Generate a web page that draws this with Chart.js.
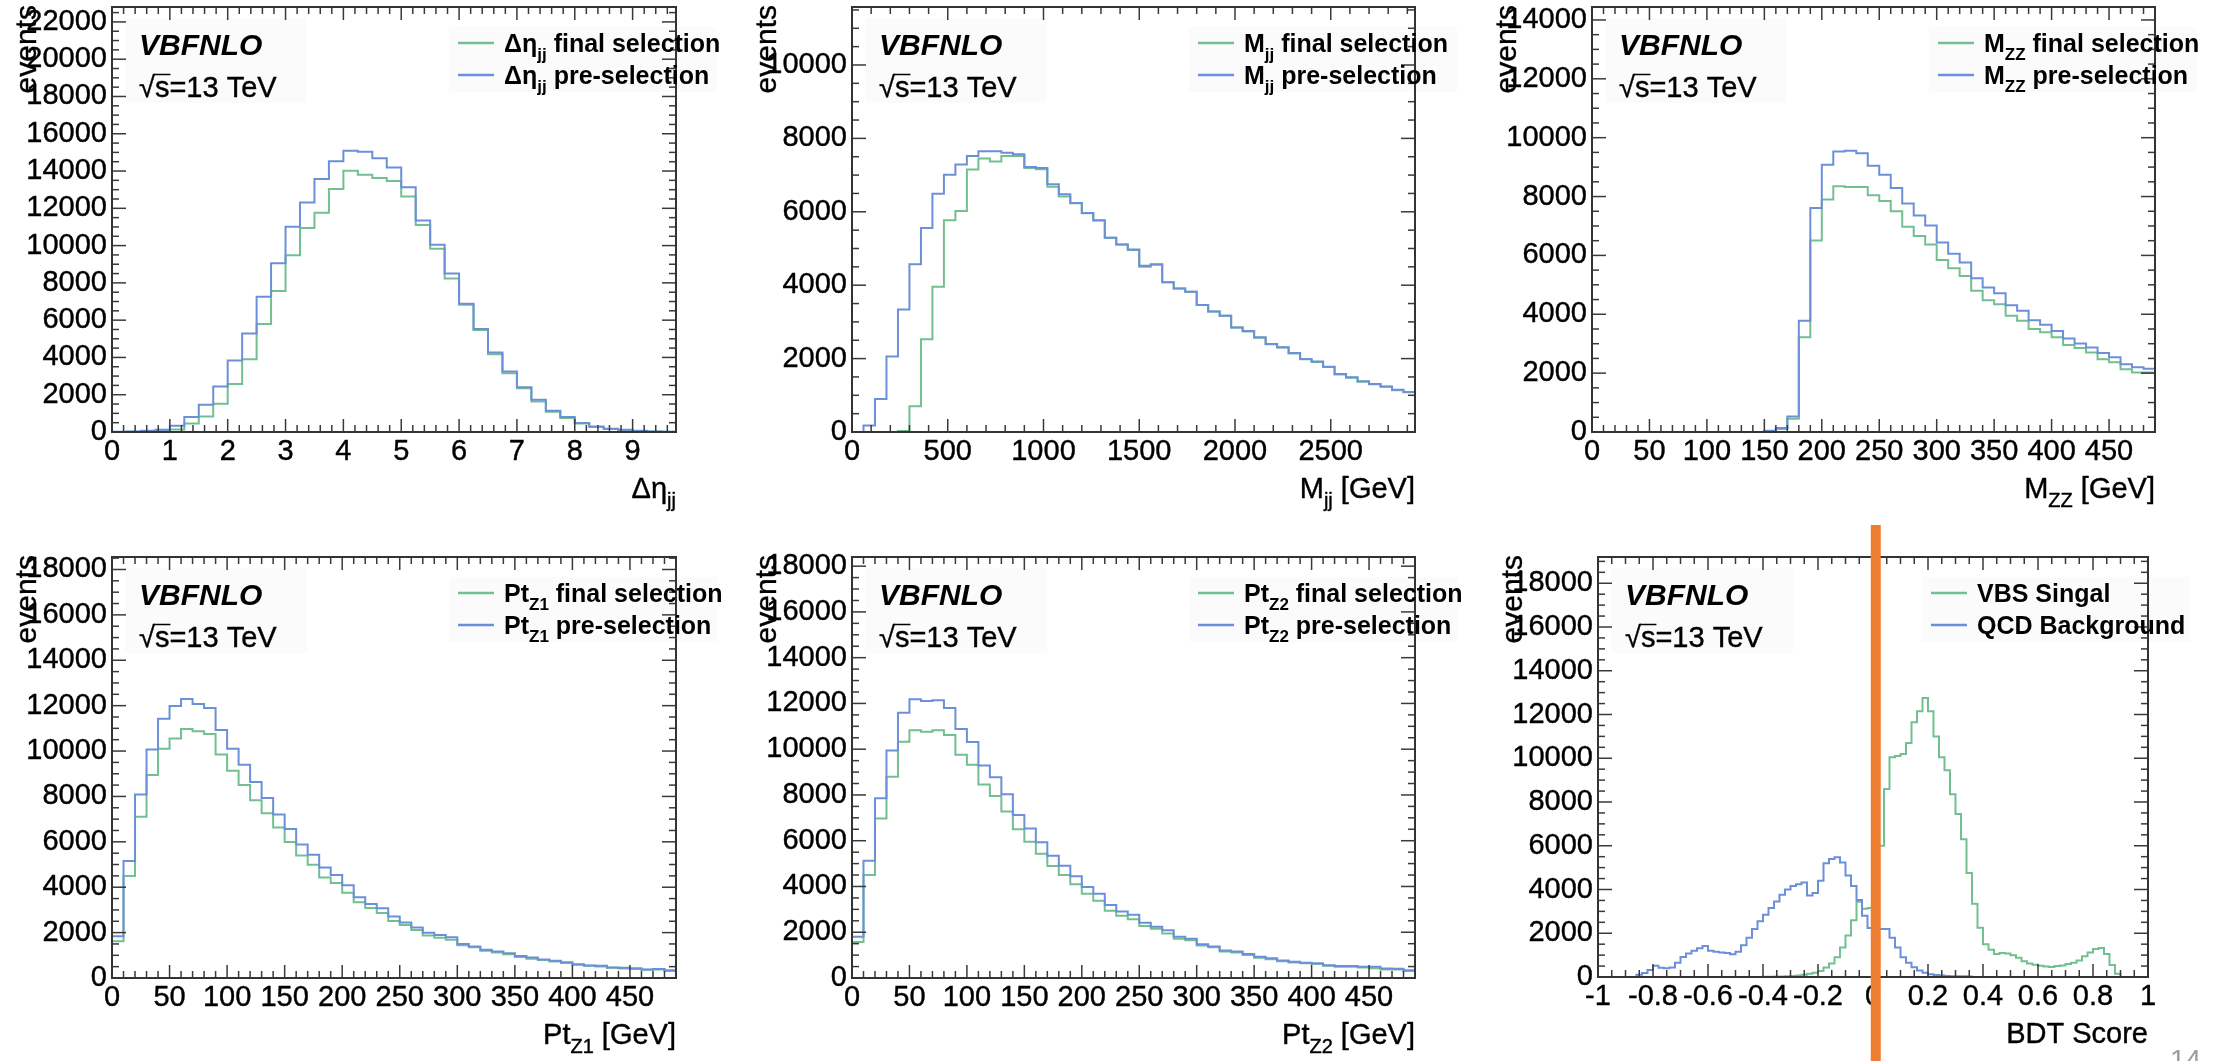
<!DOCTYPE html>
<html>
<head>
<meta charset="utf-8">
<title>VBFNLO distributions</title>
<script src="https://cdn.jsdelivr.net/npm/chart.js@4.4.1/dist/chart.umd.min.js"></script>
<style>
  html, body { margin:0; padding:0; background:#fff; }
  body { width:2224px; height:1061px; position:relative; overflow:hidden; font-family:"Liberation Sans", Arial, sans-serif; }
  .pane { position:absolute; }
  .pane canvas { display:block; }
  #pageno { position:absolute; left:2170px; top:1046px; font-size:28px; line-height:28px; color:#9c9c9c; }
</style>
</head>
<body>
<div class="pane" id="p1"><canvas id="c1"></canvas></div>
<div class="pane" id="p2"><canvas id="c2"></canvas></div>
<div class="pane" id="p3"><canvas id="c3"></canvas></div>
<div class="pane" id="p4"><canvas id="c4"></canvas></div>
<div class="pane" id="p5"><canvas id="c5"></canvas></div>
<div class="pane" id="p6"><canvas id="c6"></canvas></div>
<div id="pageno">14</div>
<script>
// ---------------- data ----------------
// Delta eta_jj : 39 bins of 0.25 from 0
const detaPre   = [20,30,70,120,340,800,1460,2440,3830,5290,7250,9050,11010,12310,13570,14530,15090,15030,14680,14190,13130,11350,10050,8500,6880,5520,4270,3240,2400,1730,1140,800,480,300,180,120,70,30,20];
const detaFinal = [0,10,20,40,130,450,830,1510,2580,3900,5790,7570,9480,10940,11760,13040,14020,13800,13620,13460,12630,11110,9830,8230,6820,5470,4170,3150,2350,1640,1090,750,450,270,160,110,50,30,20];
// M_jj : 49 bins of 60 GeV from 0
const mjjPre   = [0,180,900,2060,3340,4570,5560,6490,7010,7290,7520,7650,7650,7610,7570,7220,7190,6750,6480,6240,5970,5770,5290,5110,4970,4530,4570,4080,3910,3820,3460,3280,3170,2850,2750,2580,2400,2310,2150,1990,1920,1780,1580,1490,1380,1310,1240,1150,1090];
const mjjFinal = [0,0,0,0,30,700,2530,3960,5770,6020,7150,7450,7370,7520,7520,7190,7160,6680,6420,6230,5960,5760,5290,5110,4960,4500,4560,4080,3910,3820,3460,3280,3170,2850,2740,2570,2390,2300,2140,1980,1910,1770,1570,1480,1370,1300,1230,1140,1080];
// M_ZZ : 49 bins of 10 GeV from 0
const mzzPre   = [0,0,0,0,0,0,0,0,0,0,0,0,0,0,0,45,135,530,3780,7610,9080,9530,9560,9470,9050,8740,8290,7760,7360,7020,6440,6060,5760,5220,4910,4710,4310,4120,3800,3640,3430,3180,3010,2870,2680,2540,2300,2200,2150];
const mzzFinal = [0,0,0,0,0,0,0,0,0,0,0,0,0,0,0,30,100,450,3220,6510,7900,8350,8320,8320,8040,7850,7500,6970,6660,6370,5840,5560,5300,4800,4480,4340,3950,3780,3500,3390,3220,2960,2850,2700,2470,2370,2130,2020,2020];
// Pt_Z1 : 49 bins of 10 GeV from 0
const ptz1Pre   = [1840,5160,8080,10070,11420,11980,12290,12070,11900,10930,10100,9400,8640,7930,7200,6560,5880,5430,4870,4540,4090,3560,3260,3070,2710,2440,2220,1990,1890,1800,1500,1390,1240,1170,1090,970,900,820,760,690,610,550,540,460,450,430,370,400,340];
const ptz1Final = [1620,4490,7110,8950,10100,10550,10970,10870,10750,9850,9130,8500,7830,7260,6630,5990,5400,4990,4430,4190,3760,3340,3080,2860,2510,2340,2110,1870,1770,1690,1440,1350,1200,1120,1050,930,850,790,730,660,580,540,510,450,420,400,360,370,310];
// Pt_Z2 : 49 bins of 10 GeV from 0
const ptz2Pre   = [1800,5120,7860,9940,11590,12180,12110,12140,11800,10880,10310,9290,8770,8030,7120,6530,5930,5340,4910,4450,3980,3680,3190,2910,2760,2420,2240,2090,1800,1710,1480,1380,1200,1160,1050,930,860,760,710,670,640,560,520,520,490,490,420,400,340];
const ptz2Final = [1570,4500,6970,8800,10330,10830,10760,10830,10620,9760,9320,8460,7950,7280,6500,5950,5430,4900,4500,4100,3680,3380,2940,2720,2570,2270,2150,1940,1710,1650,1420,1340,1160,1110,1010,890,820,730,680,640,610,530,490,490,460,430,370,370,310];
// BDT score : 100 bins of 0.02 from -1
const bdtBackground = [0,0,0,0,0,0,0,100,180,320,510,420,400,430,650,920,1080,1200,1320,1420,1200,1150,1120,1100,1040,1150,1450,1800,2200,2550,2850,3150,3450,3760,4000,4160,4240,4320,3730,3840,4400,5200,5390,5470,5230,4640,4160,3520,2800,2240,2150,2200,2200,1800,1350,900,650,450,300,190,130,90,70,50,40,35,30,20,0,0,0,0,0,0,0,0,0,0,0,0,0,0,0,0,0,0,0,0,0,0,0,0,0,0,0,0,0,0,0,0];
const bdtSignal = [0,0,0,0,0,0,0,0,0,0,0,0,0,0,0,0,0,0,0,0,0,0,0,0,0,0,0,0,0,0,10,15,20,25,35,50,70,100,150,200,280,430,620,900,1350,1900,2600,3440,3120,3150,3750,6000,8600,10050,10100,10200,10700,11650,12150,12750,12150,11000,10050,9450,8350,7450,6300,4750,3350,2250,1500,1250,1050,1100,1080,1000,880,720,620,560,520,480,460,500,530,590,650,750,950,1120,1280,1330,1050,550,150,0,0,0,0,0];
const bdtCut = 0.01;

// tick labels
const detaTicks = [0,1,2,3,4,5,6,7,8,9];
const mjjTicks  = [0,500,1000,1500,2000,2500];
const gevTicks  = [0,50,100,150,200,250,300,350,400,450];
const bdtTicks  = [-1,-0.8,-0.6,-0.4,-0.2,0,0.2,0.4,0.6,0.8,1];
const yTicks22  = [0,2000,4000,6000,8000,10000,12000,14000,16000,18000,20000,22000];
const yTicks10  = [0,2000,4000,6000,8000,10000];
const yTicks14  = [0,2000,4000,6000,8000,10000,12000,14000];
const yTicks18  = [0,2000,4000,6000,8000,10000,12000,14000,16000,18000];

// ---------------- styling / layout ----------------
const GREEN = '#72bf90';
const BLUE  = '#6c8fda';
const ORANGE = '#ed7d31';
const FAMILY = '"Liberation Sans", Arial, sans-serif';
Chart.defaults.font.family = FAMILY;
Chart.defaults.color = '#000';

const boxes = {
  p1: {left:0,    top:0,   width:746, height:520, fl:112, ft:7,  fw:564, fh:425},
  p2: {left:740,  top:0,   width:746, height:520, fl:112, ft:7,  fw:563, fh:425},
  p3: {left:1480, top:0,   width:744, height:520, fl:112, ft:7,  fw:563, fh:425},
  p4: {left:0,    top:520, width:746, height:541, fl:112, ft:37, fw:564, fh:421},
  p5: {left:740,  top:520, width:746, height:541, fl:112, ft:37, fw:563, fh:421},
  p6: {left:1486, top:520, width:738, height:541, fl:112, ft:37, fw:550, fh:420}
};

function fontStr(size, bold, italic) {
  return (italic ? 'italic ' : '') + (bold ? 'bold ' : '') + size + 'px ' + FAMILY;
}
function drawRich(ctx, parts, x, base, size, bold, align, stroke) {
  const sub = Math.round(size * 0.68);
  const w = parts.map(([t, s]) => { ctx.font = fontStr(s ? sub : size, bold); return ctx.measureText(t).width; });
  const total = w.reduce((p, q) => p + q, 0);
  let cx = align === 'right' ? x - total : x;
  ctx.textAlign = 'left';
  ctx.textBaseline = 'alphabetic';
  parts.forEach(([t, s], i) => {
    ctx.font = fontStr(s ? sub : size, bold);
    const yy = s ? base + size * 0.3 : base;
    ctx.fillText(t, cx, yy);
    if (stroke) { ctx.lineWidth = stroke; ctx.strokeStyle = ctx.fillStyle; ctx.strokeText(t, cx, yy); }
    cx += w[i];
  });
}
function line(ctx, x1, y1, x2, y2) { ctx.beginPath(); ctx.moveTo(x1, y1); ctx.lineTo(x2, y2); ctx.stroke(); }

function drawTicks(ctx, scale, a, horizontal, minor, majorLen, minorLen) {
  const majors = scale.ticks.map(t => t.value);
  const k0 = Math.ceil(scale.min / minor - 1e-6), k1 = Math.floor(scale.max / minor + 1e-6);
  for (let k = k0; k <= k1; k++) {
    const v = k * minor;
    const isMajor = majors.some(m => Math.abs(m - v) < minor * 1e-3);
    const len = isMajor ? majorLen : minorLen;
    const p = scale.getPixelForValue(v);
    if (horizontal) { line(ctx, p, a.bottom, p, a.bottom - len); line(ctx, p, a.top, p, a.top + len); }
    else { line(ctx, a.left, p, a.left + len, p); line(ctx, a.right, p, a.right - len, p); }
  }
}

const rootDeco = {
  id: 'rootDeco',
  beforeDatasetsDraw(chart, args, o) {
    const {ctx, chartArea: a} = chart;
    ctx.save();
    ctx.fillStyle = '#fbfbfb';
    ctx.fillRect(a.left + 13, a.top + 11, 182, 85);
    ctx.fillRect(a.left + o.legendDx + 337, a.top + 20, 268, 65);
    ctx.restore();
  },
  afterDatasetsDraw(chart, args, o) {
    const {ctx, chartArea: a, scales: {x, y}} = chart;
    ctx.save();
    ctx.strokeStyle = '#3a3a3a';
    ctx.lineWidth = 1.5;
    drawTicks(ctx, x, a, true, o.xMinor, 13, 7);
    drawTicks(ctx, y, a, false, o.yMinor, 14, 7);
    ctx.lineWidth = 2;
    ctx.strokeStyle = '#333';
    ctx.strokeRect(a.left, a.top, a.right - a.left, a.bottom - a.top);
    ctx.restore();
  },
  afterDraw(chart, args, o) {
    const {ctx, chartArea: a, scales: {x}} = chart;
    ctx.save();
    ctx.fillStyle = '#000';
    // VBFNLO label
    ctx.font = fontStr(30, true, true);
    ctx.textAlign = 'left'; ctx.textBaseline = 'alphabetic';
    ctx.fillText('VBFNLO', a.left + 27, a.top + 48);
    // sqrt(s) = 13 TeV
    const sb = a.top + 90, sx = a.left + 27;
    ctx.font = fontStr(29);
    const wr = ctx.measureText('√').width;
    const ws = ctx.measureText('s').width;
    ctx.fillText('√', sx, sb);
    ctx.fillText('s=13 TeV', sx + wr, sb);
    ctx.strokeStyle = '#000'; ctx.lineWidth = 0.4;
    ctx.strokeText('√', sx, sb);
    ctx.strokeText('s=13 TeV', sx + wr, sb);
    ctx.lineWidth = 1.5;
    line(ctx, sx + wr - 1, sb - 22.5, sx + wr + ws + 1, sb - 22.5);
    // legend
    o.legend.forEach((ent, i) => {
      const cy = a.top + 36 + i * 32;
      ctx.strokeStyle = ent.color; ctx.lineWidth = 2.5;
      line(ctx, a.left + o.legendDx + 346, cy, a.left + o.legendDx + 382, cy);
      ctx.fillStyle = '#000';
      drawRich(ctx, ent.parts, a.left + o.legendDx + 392, cy + 9, 25, true, 'left', 0);
    });
    // x-axis title
    ctx.fillStyle = '#000';
    drawRich(ctx, o.title, a.right, a.bottom + 66, 29, false, 'right', 0.4);
    // y-axis title
    ctx.save();
    ctx.translate(a.left - 84, a.top - 2);
    ctx.rotate(-Math.PI / 2);
    ctx.font = fontStr(30);
    ctx.textAlign = 'right'; ctx.textBaseline = 'middle';
    ctx.fillText('events', 0, 0);
    ctx.lineWidth = 0.4; ctx.strokeStyle = '#000';
    ctx.strokeText('events', 0, 0);
    ctx.restore();
    // cut line (BDT panel)
    if (o.cut !== undefined) {
      const px = x.getPixelForValue(o.cut);
      ctx.fillStyle = ORANGE;
      ctx.fillRect(px - 5, 5, 10, chart.height - 5);
    }
    ctx.restore();
  }
};

function stepPoints(low, width, vals) {
  const pts = vals.map((v, i) => ({x: low + i * width, y: v}));
  pts.push({x: low + vals.length * width, y: vals[vals.length - 1]});
  return pts;
}

const panelDefs = [
  {box:'p1', canvas:'c1', low:0, width:0.25, xMin:0, xMax:9.75, xTicks:detaTicks, xMinor:0.2, yMax:22800, yTicks:yTicks22, yMinor:500,
   pre:detaPre, fin:detaFinal, title:[['Δη',0],['jj',1]], legendDx:0,
   legend:[{color:GREEN, parts:[['Δη',0],['jj',1],[' final selection',0]]},{color:BLUE, parts:[['Δη',0],['jj',1],[' pre-selection',0]]}]},
  {box:'p2', canvas:'c2', low:0, width:60, xMin:0, xMax:2940, xTicks:mjjTicks, xMinor:100, yMax:11580, yTicks:yTicks10, yMinor:500,
   pre:mjjPre, fin:mjjFinal, title:[['M',0],['jj',1],[' [GeV]',0]], legendDx:0,
   legend:[{color:GREEN, parts:[['M',0],['jj',1],[' final selection',0]]},{color:BLUE, parts:[['M',0],['jj',1],[' pre-selection',0]]}]},
  {box:'p3', canvas:'c3', low:0, width:10, xMin:0, xMax:490, xTicks:gevTicks, xMinor:10, yMax:14440, yTicks:yTicks14, yMinor:500,
   pre:mzzPre, fin:mzzFinal, title:[['M',0],['ZZ',1],[' [GeV]',0]], legendDx:0,
   legend:[{color:GREEN, parts:[['M',0],['ZZ',1],[' final selection',0]]},{color:BLUE, parts:[['M',0],['ZZ',1],[' pre-selection',0]]}]},
  {box:'p4', canvas:'c4', low:0, width:10, xMin:0, xMax:490, xTicks:gevTicks, xMinor:10, yMax:18550, yTicks:yTicks18, yMinor:500,
   pre:ptz1Pre, fin:ptz1Final, title:[['Pt',0],['Z1',1],[' [GeV]',0]], legendDx:0,
   legend:[{color:GREEN, parts:[['Pt',0],['Z1',1],[' final selection',0]]},{color:BLUE, parts:[['Pt',0],['Z1',1],[' pre-selection',0]]}]},
  {box:'p5', canvas:'c5', low:0, width:10, xMin:0, xMax:490, xTicks:gevTicks, xMinor:10, yMax:18400, yTicks:yTicks18, yMinor:500,
   pre:ptz2Pre, fin:ptz2Final, title:[['Pt',0],['Z2',1],[' [GeV]',0]], legendDx:0,
   legend:[{color:GREEN, parts:[['Pt',0],['Z2',1],[' final selection',0]]},{color:BLUE, parts:[['Pt',0],['Z2',1],[' pre-selection',0]]}]},
  {box:'p6', canvas:'c6', low:-1, width:0.02, xMin:-1, xMax:1, xTicks:bdtTicks, xMinor:0.05, yMax:19200, yTicks:yTicks18, yMinor:500,
   pre:bdtBackground, fin:bdtSignal, title:[['BDT Score',0]], legendDx:-13, cut:bdtCut,
   legend:[{color:GREEN, parts:[['VBS Singal',0]]},{color:BLUE, parts:[['QCD Background',0]]}]}
];

panelDefs.forEach(d => {
  const b = boxes[d.box];
  const wrap = document.getElementById(d.box);
  wrap.style.left = b.left + 'px'; wrap.style.top = b.top + 'px';
  wrap.style.width = b.width + 'px'; wrap.style.height = b.height + 'px';
  const yAxisW = b.fl, xAxisH = b.height - b.ft - b.fh, padRight = b.width - b.fl - b.fw;
  const fmt = v => String(v);
  new Chart(document.getElementById(d.canvas), {
    type: 'line',
    data: {
      datasets: [
        {data: stepPoints(d.low, d.width, d.pre), borderColor: BLUE, borderWidth: 2, pointRadius: 0, fill: false, stepped: true, tension: 0},
        {data: stepPoints(d.low, d.width, d.fin), borderColor: GREEN, borderWidth: 2, pointRadius: 0, fill: false, stepped: true, tension: 0}
      ]
    },
    options: {
      responsive: true, maintainAspectRatio: false, devicePixelRatio: 1,
      animation: false, events: [],
      layout: {padding: {top: b.ft, left: 0, right: padRight, bottom: 0}},
      plugins: {
        legend: {display: false}, tooltip: {enabled: false},
        rootDeco: {xMinor: d.xMinor, yMinor: d.yMinor, legend: d.legend, legendDx: d.legendDx, title: d.title, cut: d.cut}
      },
      scales: {
        x: {
          type: 'linear', min: d.xMin, max: d.xMax,
          grid: {display: false, drawTicks: false}, border: {display: false},
          ticks: {font: {size: 29}, color: '#000', textStrokeColor: '#000', textStrokeWidth: 0.4, padding: 3, autoSkip: false, maxRotation: 0, minRotation: 0, callback: fmt},
          afterBuildTicks: s => { s.ticks = d.xTicks.map(v => ({value: v})); },
          afterFit: s => { s.height = xAxisH; s.paddingLeft = 0; s.paddingRight = 0; }
        },
        y: {
          type: 'linear', min: 0, max: d.yMax,
          grid: {display: false, drawTicks: false}, border: {display: false},
          ticks: {font: {size: 29}, color: '#000', textStrokeColor: '#000', textStrokeWidth: 0.4, padding: 5, autoSkip: false, callback: fmt},
          afterBuildTicks: s => { s.ticks = d.yTicks.map(v => ({value: v})); },
          afterFit: s => { s.width = yAxisW; s.paddingTop = 0; s.paddingBottom = 0; }
        }
      }
    },
    plugins: [rootDeco]
  });
});
</script>
</body>
</html>
